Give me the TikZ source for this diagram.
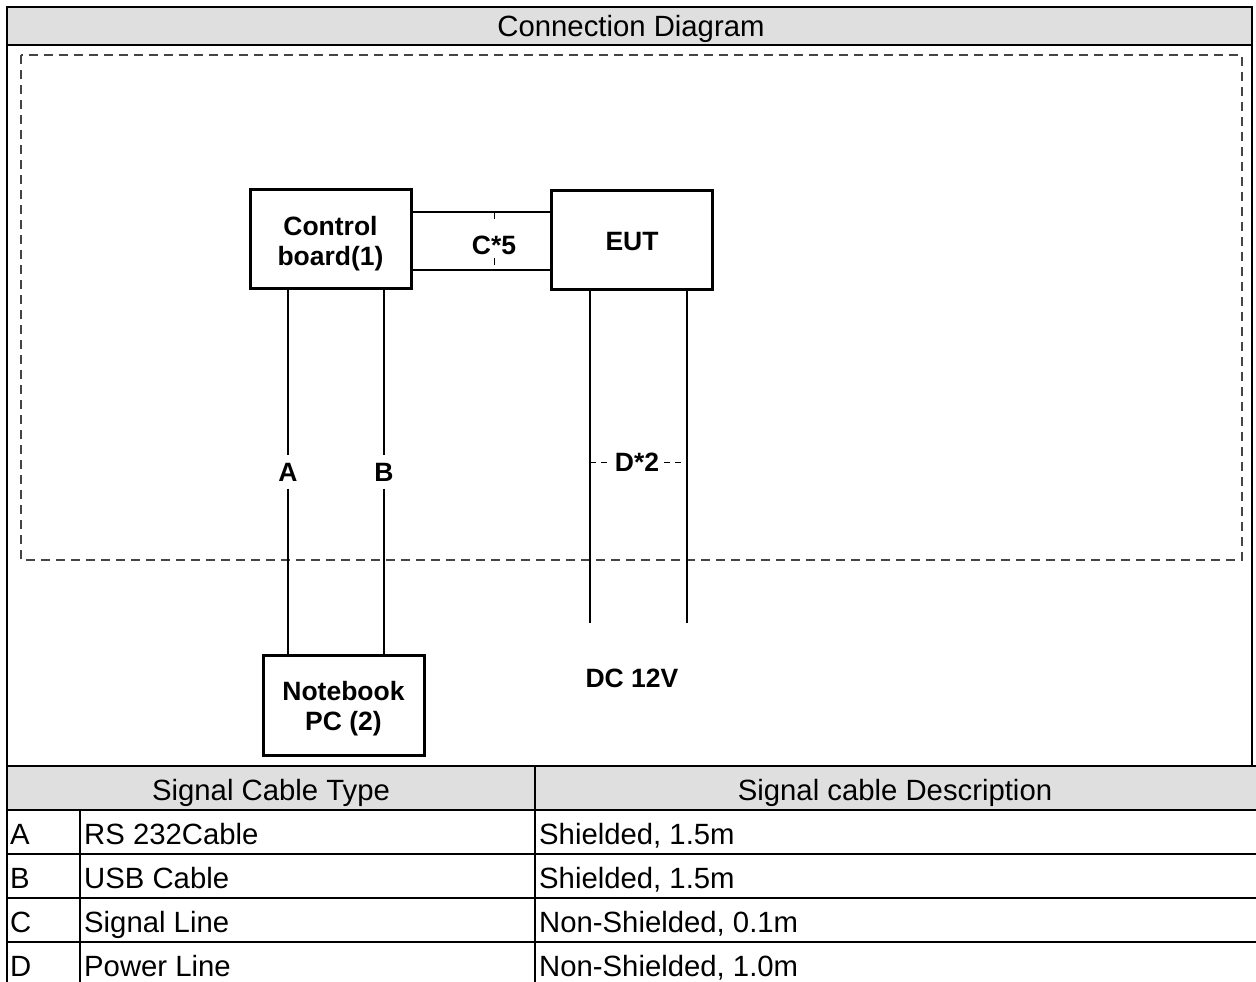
\documentclass[tikz,border=0pt]{standalone}
\usepackage{fontspec}
\setmainfont{Liberation Sans}
\definecolor{hdrgray}{HTML}{DFDFDF}
\definecolor{dashgray}{HTML}{444444}
\begin{document}
\begin{tikzpicture}[x=1pt,y=-1pt,
  box/.style={draw,line width=3pt,minimum width=161pt,minimum height=99pt,inner sep=0pt,align=center,font=\bfseries\fontsize{26.5}{30}\selectfont},
  cable/.style={line width=1.7pt},
  lbl/.style={font=\bfseries\fontsize{26.5}{30}\selectfont,inner sep=0pt},
  frame/.style={line width=2.8pt},
  tbl/.style={line width=2pt},
  txt/.style={font=\fontsize{29.3}{34}\selectfont,inner sep=0pt},
  dashbox/.style={draw=dashgray,line width=1.2pt,dash pattern=on 9pt off 6pt},
  cdash/.style={line width=1pt,dash pattern=on 7pt off 39pt},
  ddash/.style={line width=1pt,dash pattern=on 6pt off 5pt}
]
\useasboundingbox (0,0) rectangle (1256,982);
% fills
\fill[hdrgray] (7,7) rectangle (1252,45);
\fill[hdrgray] (7,766) rectangle (1256,810);
% frame of diagram
\draw[frame] (7,7) rectangle (1252,766);
\draw[frame] (7,45) -- (1252,45);
% table lines
\foreach \yy in {766,810,854,898,942} \draw[tbl] (7,\yy) -- (1256,\yy);
\draw[tbl] (7,766) -- (7,982);
\draw[tbl] (535,766) -- (535,982);
\draw[tbl] (80,810) -- (80,982);
% texts
\node[txt,anchor=base] (title) at (631,37) {Connection Diagram};
\node[txt,anchor=base] (th1) at (271,800) {Signal Cable Type};
\node[txt,anchor=base] (th2) at (895,800) {Signal cable Description};
\node[txt,anchor=base west] (ra) at (10,844) {A};
\node[txt,anchor=base west] (rb) at (10,888) {B};
\node[txt,anchor=base west] (rc) at (10,932) {C};
\node[txt,anchor=base west] (rd) at (10,976) {D};
\node[txt,anchor=base west] (ta) at (84,844) {RS 232Cable};
\node[txt,anchor=base west] (tb) at (84,888) {USB Cable};
\node[txt,anchor=base west] (tc) at (84,932) {Signal Line};
\node[txt,anchor=base west] (td) at (84,976) {Power Line};
\node[txt,anchor=base west] (da) at (539,844) {Shielded, 1.5m};
\node[txt,anchor=base west] (db) at (539,888) {Shielded, 1.5m};
\node[txt,anchor=base west] (dc2) at (539,932) {Non-Shielded, 0.1m};
\node[txt,anchor=base west] (dd) at (539,976) {Non-Shielded, 1.0m};
% dashed boundary
\draw[dashbox] (21,55) rectangle (1242,560);
% equipment
\node[box] (cb) at (330.5,239) {\rule{0pt}{28pt}Control\\board(1)};
\node[box] (eut) at (632,239.5) {\rule{0pt}{22pt}EUT};
\node[box,minimum height=100pt] (nb) at (343.5,705) {\rule{0pt}{27pt}Notebook\\PC (2)};
% cables A, B
\node[lbl,minimum height=33pt] (la) at (288,472) {A};
\node[lbl,minimum height=33pt] (lb) at (384,472) {B};
\draw[cable] (la |- cb.south) -- (la.north);
\draw[cable] (la.south) -- (la |- nb.north);
\draw[cable] (lb |- cb.south) -- (lb.north);
\draw[cable] (lb.south) -- (lb |- nb.north);
% cable C
\coordinate (c1) at (0,212);
\coordinate (c2) at (0,270);
\draw[cable] (cb.east |- c1) -- (eut.west |- c1);
\draw[cable] (cb.east |- c2) -- (eut.west |- c2);
\node[lbl] (lc) at (494,245) {C*5};
\draw[cdash] (lc |- c1) -- (lc |- c2);
% cable D
\coordinate (dend1) at (590,623);
\coordinate (dend2) at (687,623);
\draw[cable] (eut.south -| dend1) -- (dend1);
\draw[cable] (eut.south -| dend2) -- (dend2);
\node[lbl,inner xsep=5pt] (ld) at (637,462) {D*2};
\draw[ddash] (dend1 |- ld) -- (ld.west);
\draw[ddash] (ld.east) -- (dend2 |- ld);
\node[lbl] (dcv) at (632,678) {DC 12V};
\end{tikzpicture}
\end{document}
